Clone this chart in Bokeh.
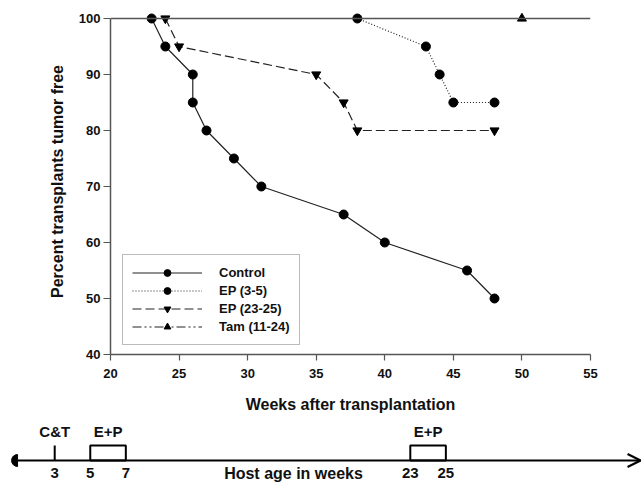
from bokeh.plotting import figure
from bokeh.layouts import column
from bokeh.models import Range1d, Legend, LegendItem, Arrow, OpenHead, FixedTicker, Span
from bokeh.core.properties import value
from bokeh.embed import file_html
from bokeh.resources import INLINE

FONT = "Liberation Sans"

# ---- data ----
control_x = [23, 24, 26, 26, 27, 29, 31, 37, 40, 46, 48]
control_y = [100, 95, 90, 85, 80, 75, 70, 65, 60, 55, 50]
ep35_x = [38, 43, 44, 45, 48]
ep35_y = [100, 95, 90, 85, 85]
ep2325_x = [24, 25, 35, 37, 38, 48]
ep2325_y = [100, 95, 90, 85, 80, 80]
tam_x = [50]
tam_y = [100]
x_ticks = [20, 25, 30, 35, 40, 45, 50, 55]
y_ticks = [40, 50, 60, 70, 80, 90, 100]

# timeline (host age in weeks)
ct_week = [3]
ep_start = [5, 23]
ep_end = [7, 25]
event_labels = ["C&T", "E+P", "E+P"]
timeline_ticks = [3, 5, 7, 23, 25]
timeline_span = [0.91, 35.95]

# ---- main plot ----
p = figure(width=642, height=417, x_range=Range1d(20, 55),
           y_range=Range1d(40, 40 + 346 / 5.6),
           output_backend="svg", toolbar_location=None,
           min_border_left=110, min_border_right=52,
           min_border_top=8, min_border_bottom=63)
p.frame_align = False
p.outline_line_color = None
p.xgrid.visible = False
p.ygrid.visible = False
p.background_fill_color = "white"
p.border_fill_color = "white"

for ax in (p.xaxis[0], p.yaxis[0]):
    ax.axis_line_color = "#555555"
    ax.axis_line_width = 1.5
    ax.major_tick_line_color = "#555555"
    ax.major_tick_line_width = 1.2
    ax.major_tick_in = 0
    ax.minor_tick_line_color = None
    ax.major_label_text_font = FONT
    ax.major_label_text_font_style = "bold"
    ax.major_label_text_font_size = "13px"
    ax.major_label_text_color = "#111111"
    ax.axis_label_text_font = FONT
    ax.axis_label_text_font_style = "bold"
    ax.axis_label_text_font_size = "16px"
    ax.axis_label_text_color = "#111111"

p.xaxis.ticker = FixedTicker(ticks=x_ticks)
p.yaxis.ticker = FixedTicker(ticks=y_ticks)
p.yaxis.bounds = (y_ticks[0], y_ticks[-1])
p.xaxis.major_tick_out = 6
p.yaxis.major_tick_out = 7
p.xaxis.major_label_standoff = 8
p.yaxis.major_label_standoff = 3
p.xaxis.axis_label = "Weeks after transplantation"
p.yaxis.axis_label = "Percent transplants tumor free"
p.xaxis.axis_label_standoff = 15
p.yaxis.axis_label_standoff = 10

top = Span(location=y_ticks[-1], dimension="width", line_color="#555555", line_width=1.5)
p.add_layout(top)

lc = "#222222"
l1 = p.line(control_x, control_y, line_color=lc, line_width=1.2)
s1 = p.scatter(control_x, control_y, marker="circle", size=9, color="black")
l2 = p.line(ep35_x, ep35_y, line_color=lc, line_width=1.2, line_dash="1 2")
s2 = p.scatter(ep35_x, ep35_y, marker="circle", size=9, color="black")
l3 = p.line(ep2325_x, ep2325_y, line_color=lc, line_width=1.2, line_dash="9 4")
s3 = p.scatter(ep2325_x, ep2325_y, marker="inverted_triangle", size=9, color="black")
l4 = p.line(tam_x, tam_y, line_color=lc, line_width=1.2, line_dash="9 3 2 3 2 3")
s4 = p.scatter(tam_x, tam_y, marker="triangle", size=9, color="black")

legend = Legend(items=[
    LegendItem(label="Control", renderers=[l1, s1]),
    LegendItem(label="EP (3-5)", renderers=[l2, s2]),
    LegendItem(label="EP (23-25)", renderers=[l3, s3]),
    LegendItem(label="Tam (11-24)", renderers=[l4, s4]),
], location=(12, 9))
legend.glyph_width = 70
legend.glyph_height = 17
legend.label_height = 17
legend.spacing = 1
legend.padding = 9
legend.label_standoff = 17
legend.label_text_font = FONT
legend.label_text_font_style = "bold"
legend.label_text_font_size = "13px"
legend.label_text_color = "#111111"
legend.border_line_color = "#777777"
legend.border_line_width = 1.5
legend.background_fill_alpha = 1.0
legend.margin = 0
p.add_layout(legend)

# ---- timeline ----
t = figure(width=642, height=66, x_range=Range1d(-0.049, 36.06), y_range=Range1d(0, 66),
           output_backend="svg", toolbar_location=None,
           x_axis_location=None, y_axis_location=None,
           min_border_left=0, min_border_right=0, min_border_top=0, min_border_bottom=0)
t.frame_align = False
t.outline_line_color = None
t.xgrid.visible = False
t.ygrid.visible = False

base_y = 23
box_top = 38
t.add_layout(Arrow(end=OpenHead(size=13, line_width=2.2, line_color="black"),
                   x_start=timeline_span[0], x_end=timeline_span[1],
                   y_start=base_y, y_end=base_y, line_width=2.2, line_color="black"))
t.wedge(x=[timeline_span[0]], y=[base_y], radius=6, radius_units="screen",
        start_angle=90, end_angle=270, start_angle_units="deg", end_angle_units="deg",
        color="black")
t.segment(x0=ct_week, y0=[base_y] * len(ct_week), x1=ct_week, y1=[box_top] * len(ct_week),
          line_color="black", line_width=2)
t.quad(left=ep_start, right=ep_end, bottom=[base_y] * len(ep_start), top=[box_top] * len(ep_start),
       fill_color=None, line_color="black", line_width=2)

label_x = ct_week + [(a + b) / 2 for a, b in zip(ep_start, ep_end)]
t.text(x=label_x, y=[52] * len(label_x), text=event_labels,
       text_font=value(FONT), text_font_style="bold", text_font_size="15px",
       text_align="center", text_baseline="middle", text_color="#111111")
t.text(x=timeline_ticks, y=[11] * len(timeline_ticks), text=[str(v) for v in timeline_ticks],
       text_font=value(FONT), text_font_style="bold", text_font_size="15px",
       text_align="center", text_baseline="middle", text_color="#111111")
t.text(x=[16.43], y=[10], text=["Host age in weeks"],
       text_font=value(FONT), text_font_style="bold", text_font_size="16px",
       text_align="center", text_baseline="middle", text_color="#111111")

layout = column(p, t, spacing=0)
open("out.html", "w").write(file_html(layout, INLINE))
